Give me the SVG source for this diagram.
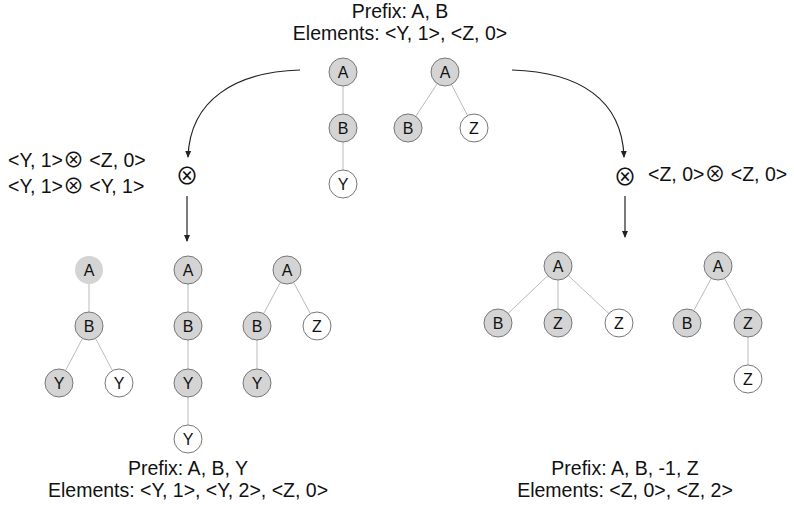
<svg xmlns="http://www.w3.org/2000/svg" width="794" height="505" viewBox="0 0 794 505">
<style>
text{font-family:"Liberation Sans",Arial,sans-serif;fill:#111}
.t{font-size:19.5px}
.x{font-family:"Noto Sans CJK JP","DejaVu Sans",sans-serif;font-size:21px}
.n circle{fill:#d4d4d4;stroke:#777;stroke-width:1}
.n.w circle{fill:#fff}
.n.l circle{fill:#d4d4d4;stroke:none}
.n text{font-size:16px;text-anchor:middle;dominant-baseline:central}
.e line{stroke:#bbb;stroke-width:1}
.c{stroke:#222;stroke-width:1.2;fill:none}
.o{font-family:"Noto Sans CJK JP","DejaVu Sans",sans-serif;font-size:23px;text-anchor:middle;dominant-baseline:central}
</style>
<defs>
<marker id="ah" markerWidth="8" markerHeight="8" refX="6" refY="4" orient="auto" markerUnits="userSpaceOnUse">
<path d="M0,1 L7,4 L0,7 Z" fill="#222"/>
</marker>
</defs>
<g id="labels">
<text class="t" x="400" y="18" text-anchor="middle">Prefix: A, B</text>
<text class="t" x="400" y="40" text-anchor="middle">Elements: &lt;Y, 1&gt;, &lt;Z, 0&gt;</text>
<text class="t" x="8" y="167">&lt;Y, 1&gt;<tspan class="x">⊗</tspan> &lt;Z, 0&gt;</text>
<text class="t" x="8" y="193">&lt;Y, 1&gt;<tspan class="x">⊗</tspan> &lt;Y, 1&gt;</text>
<text class="t" x="648" y="181">&lt;Z, 0&gt;<tspan class="x">⊗</tspan> &lt;Z, 0&gt;</text>
<text class="t" x="188" y="475" text-anchor="middle">Prefix: A, B, Y</text>
<text class="t" x="188" y="497" text-anchor="middle">Elements: &lt;Y, 1&gt;, &lt;Y, 2&gt;, &lt;Z, 0&gt;</text>
<text class="t" x="625" y="475" text-anchor="middle">Prefix: A, B, -1, Z</text>
<text class="t" x="625" y="497" text-anchor="middle">Elements: &lt;Z, 0&gt;, &lt;Z, 2&gt;</text>
<text class="o" x="187" y="174">⊗</text>
<text class="o" x="625" y="175">⊗</text>
</g>
<g id="connectors">
<path class="c" d="M300,70 C235,72 190,100 188,157" marker-end="url(#ah)"/>
<path class="c" d="M512,70 C580,72 622,100 624,157" marker-end="url(#ah)"/>
<path class="c" d="M187,196 L187,241" marker-end="url(#ah)"/>
<path class="c" d="M625,196 L625,237" marker-end="url(#ah)"/>
</g>
<g id="edges" class="e">
<line x1="343" y1="72" x2="343" y2="184"/>
<line x1="445" y1="72" x2="408" y2="128"/>
<line x1="445" y1="72" x2="474" y2="128"/>
<line x1="89" y1="270" x2="89" y2="326"/>
<line x1="89" y1="326" x2="59" y2="383"/>
<line x1="89" y1="326" x2="119" y2="383"/>
<line x1="188" y1="270" x2="188" y2="439"/>
<line x1="287" y1="270" x2="257" y2="326"/>
<line x1="287" y1="270" x2="317" y2="326"/>
<line x1="257" y1="326" x2="257" y2="383"/>
<line x1="558" y1="266" x2="498" y2="323"/>
<line x1="558" y1="266" x2="558" y2="323"/>
<line x1="558" y1="266" x2="619" y2="323"/>
<line x1="718" y1="266" x2="687" y2="323"/>
<line x1="718" y1="266" x2="748" y2="323"/>
<line x1="748" y1="323" x2="748" y2="379"/>
</g>
<g id="t1a" class="n"><circle cx="343" cy="72" r="14"/><text x="343" y="72">A</text></g>
<g id="t1b" class="n"><circle cx="343" cy="128" r="14"/><text x="343" y="128">B</text></g>
<g id="t1y" class="n w"><circle cx="343" cy="184" r="14"/><text x="343" y="184">Y</text></g>
<g id="t2a" class="n"><circle cx="445" cy="72" r="14"/><text x="445" y="72">A</text></g>
<g id="t2b" class="n"><circle cx="408" cy="128" r="14"/><text x="408" y="128">B</text></g>
<g id="t2z" class="n w"><circle cx="474" cy="128" r="14"/><text x="474" y="128">Z</text></g>
<g id="l1a" class="n l"><circle cx="89" cy="270" r="14"/><text x="89" y="270">A</text></g>
<g id="l1b" class="n"><circle cx="89" cy="326" r="14"/><text x="89" y="326">B</text></g>
<g id="l1y1" class="n"><circle cx="59" cy="383" r="14"/><text x="59" y="383">Y</text></g>
<g id="l1y2" class="n w"><circle cx="119" cy="383" r="14"/><text x="119" y="383">Y</text></g>
<g id="l2a" class="n"><circle cx="188" cy="270" r="14"/><text x="188" y="270">A</text></g>
<g id="l2b" class="n"><circle cx="188" cy="326" r="14"/><text x="188" y="326">B</text></g>
<g id="l2y1" class="n"><circle cx="188" cy="383" r="14"/><text x="188" y="383">Y</text></g>
<g id="l2y2" class="n w"><circle cx="188" cy="439" r="14"/><text x="188" y="439">Y</text></g>
<g id="l3a" class="n"><circle cx="287" cy="270" r="14"/><text x="287" y="270">A</text></g>
<g id="l3b" class="n"><circle cx="257" cy="326" r="14"/><text x="257" y="326">B</text></g>
<g id="l3z" class="n w"><circle cx="317" cy="326" r="14"/><text x="317" y="326">Z</text></g>
<g id="l3y" class="n"><circle cx="257" cy="383" r="14"/><text x="257" y="383">Y</text></g>
<g id="r1a" class="n"><circle cx="558" cy="266" r="14"/><text x="558" y="266">A</text></g>
<g id="r1b" class="n"><circle cx="498" cy="323" r="14"/><text x="498" y="323">B</text></g>
<g id="r1z1" class="n"><circle cx="558" cy="323" r="14"/><text x="558" y="323">Z</text></g>
<g id="r1z2" class="n w"><circle cx="619" cy="323" r="14"/><text x="619" y="323">Z</text></g>
<g id="r2a" class="n"><circle cx="718" cy="266" r="14"/><text x="718" y="266">A</text></g>
<g id="r2b" class="n"><circle cx="687" cy="323" r="14"/><text x="687" y="323">B</text></g>
<g id="r2z1" class="n"><circle cx="748" cy="323" r="14"/><text x="748" y="323">Z</text></g>
<g id="r2z2" class="n w"><circle cx="748" cy="379" r="14"/><text x="748" y="379">Z</text></g>
</svg>
